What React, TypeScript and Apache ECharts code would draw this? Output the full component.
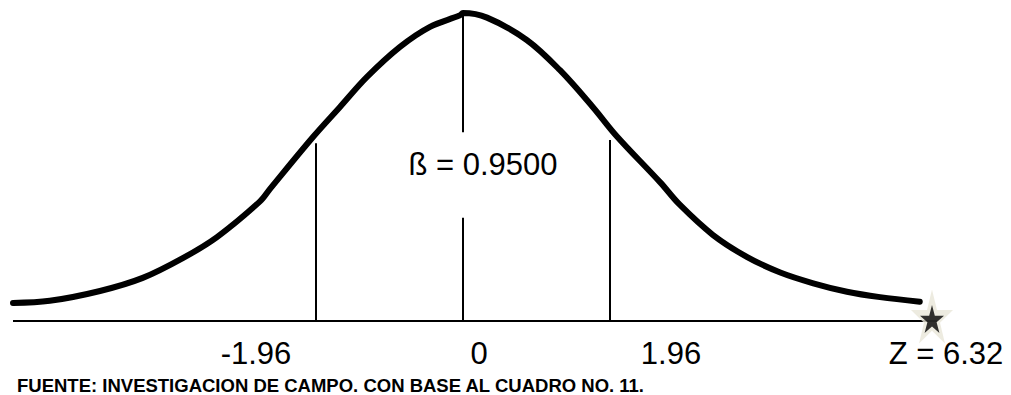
import React, { useEffect, useRef } from "react";
import * as echarts from "echarts";

// Standardised value (Z) along the curve and its height (density-like units)
const curveZ = [
  -6.0, -5.51, -4.84, -4.27, -3.73, -3.28, -2.71, -2.57, -2.0, -1.64, -1.28, -0.84, -0.44, -0.04, 0,
  0.32, 0.85, 1.29, 1.73, 2.05, 2.63, 2.89, 3.33, 3.79, 4.23, 4.67, 5.12, 5.56, 6.09,
];
const curveHeight = [
  0.0234, 0.0262, 0.039, 0.056, 0.082, 0.109, 0.155, 0.172, 0.239, 0.278, 0.317, 0.356, 0.382, 0.397, 0.4,
  0.394, 0.365, 0.326, 0.278, 0.24, 0.18, 0.151, 0.112, 0.083, 0.063, 0.049, 0.038, 0.031, 0.025,
];

// Critical values of the acceptance region and where their verticals meet the curve
const criticalZ = [-1.96, 1.96];
const criticalTop = [0.231, 0.235];
const tickLabels = ["-1.96", "0", "1.96"];

// Centre line, interrupted around the confidence label
const centerSegments: [number, number][] = [
  [0, 0.134],
  [0.245, 0.4],
];
const confidenceLabel = "ß = 0.9500";

// Computed test statistic
const statZ = 6.32;
const statLabel = "Z = 6.32";

const axisStart = -6.0;
const sourceNote = "FUENTE: INVESTIGACION DE CAMPO. CON BASE AL CUADRO NO. 11.";

const STAR =
  "path://M50,0 L61.2,34.5 L97.6,34.5 L68.2,55.9 L79.4,90.5 L50,69.1 L20.6,90.5 L31.8,55.9 L2.4,34.5 L38.8,34.5 Z";

const FONT = "'Liberation Sans', Arial, sans-serif";

export default function App() {
  const ref = useRef<HTMLDivElement>(null);

  useEffect(() => {
    if (!ref.current) return;
    const chart = echarts.init(ref.current, undefined, { renderer: "svg" });

    const vline = (x: number, y0: number, y1: number) => ({
      type: "line" as const,
      data: [
        [x, y0],
        [x, y1],
      ],
      symbol: "none",
      lineStyle: { color: "#000", width: 2 },
      silent: true,
      z: 2,
    });

    const series: any[] = [
      {
        type: "line",
        data: curveZ.map((z, i) => [z, curveHeight[i]]),
        smooth: 0.35,
        symbol: "none",
        lineStyle: { color: "#000", width: 6, cap: "round" },
        z: 3,
      },
      {
        type: "line",
        data: [
          [axisStart, 0],
          [statZ, 0],
        ],
        symbol: "none",
        lineStyle: { color: "#000", width: 2 },
        z: 2,
      },
      ...criticalZ.map((z, i) => vline(z, 0, criticalTop[i])),
      ...centerSegments.map(([a, b]) => vline(0, a, b)),
      {
        type: "scatter",
        data: [[statZ, 0]],
        symbol: STAR,
        symbolSize: [42, 54],
        symbolOffset: [-5, -4.5],
        itemStyle: { color: "#E9E6D8" },
        z: 4,
      },
      {
        type: "scatter",
        data: [[statZ, 0]],
        symbol: STAR,
        symbolSize: [24, 28],
        symbolOffset: [-5, -2],
        itemStyle: { color: "#000" },
        z: 5,
      },
    ];

    const labelStyle = (text: string, x: number, y: number, size = 30, weight = "normal", align = "center") => ({
      type: "text" as const,
      x,
      y,
      style: {
        text,
        fill: "#000",
        font: `${weight} ${size}px ${FONT}`,
        align,
        verticalAlign: "middle",
      },
      z: 10,
    });

    chart.setOption({
      animation: false,
      backgroundColor: "#fff",
      grid: { left: 13, right: 23, top: 5.3, bottom: 74, containLabel: false },
      xAxis: { type: "value", min: -6, max: 7, show: false },
      yAxis: { type: "value", min: 0, max: 0.41, show: false },
      series,
      graphic: [
        labelStyle(tickLabels[0], 256, 353, 31),
        labelStyle(tickLabels[1], 479, 353, 31),
        labelStyle(tickLabels[2], 671, 353, 31),
        labelStyle(statLabel, 946, 353, 31),
        labelStyle(confidenceLabel, 483, 164, 31),
        labelStyle(sourceNote, 17, 385, 18.5, "bold", "left"),
      ],
    });

    return () => chart.dispose();
  }, []);

  return (
    <div
      ref={ref}
      style={{ position: "fixed", left: 0, top: 0, width: 1011, height: 395, background: "#fff" }}
    />
  );
}
